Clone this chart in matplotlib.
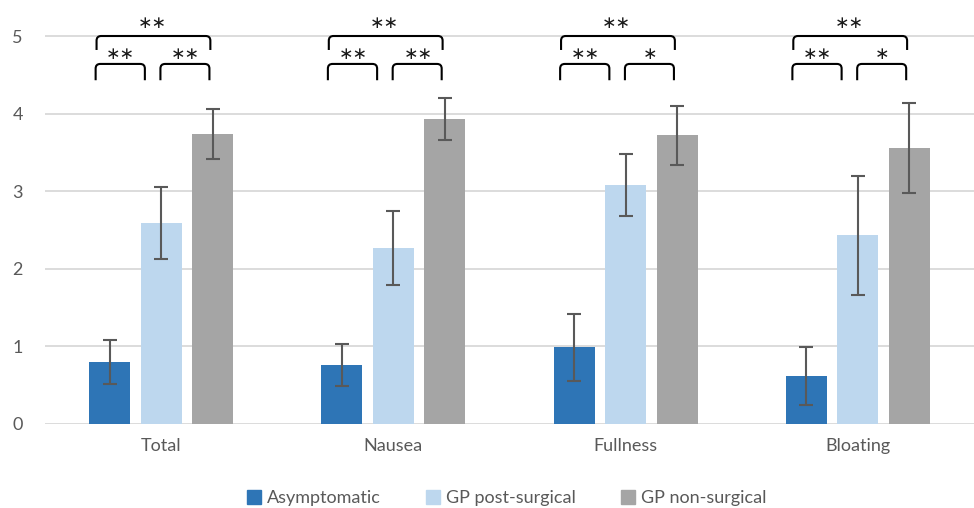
import matplotlib.pyplot as plt
from matplotlib.path import Path
from matplotlib.patches import PathPatch, Patch
import numpy as np

plt.rcParams['font.family'] = ['Lato', 'DejaVu Sans']

categories = ['Total', 'Nausea', 'Fullness', 'Bloating']
groups = ['Asymptomatic', 'GP post-surgical', 'GP non-surgical']
colors = ['#2E75B6', '#BDD7EE', '#A5A5A5']

means = {
    'Asymptomatic':     [0.80, 0.76, 0.99, 0.62],
    'GP post-surgical': [2.59, 2.27, 3.08, 2.43],
    'GP non-surgical':  [3.74, 3.93, 3.72, 3.56],
}
errors = {
    'Asymptomatic':     [0.28, 0.27, 0.43, 0.37],
    'GP post-surgical': [0.46, 0.48, 0.40, 0.77],
    'GP non-surgical':  [0.32, 0.27, 0.38, 0.58],
}

# significance marks: (outer bracket, left pair, right pair)
stars = [
    ('**', '**', '**'),
    ('**', '**', '**'),
    ('**', '**', '*'),
    ('**', '**', '*'),
]

fig = plt.figure(figsize=(9.74, 5.08), dpi=100)
ax = fig.add_axes([0.0462, 0.1654, 0.9538, 0.8346])

x = np.arange(len(categories))
width = 0.177
step = 0.222

for i, g in enumerate(groups):
    ax.bar(x + (i - 1) * step, means[g], width, color=colors[i], label=g, zorder=2)
    ax.errorbar(x + (i - 1) * step, means[g], yerr=errors[g], fmt='none',
                ecolor='#595959', elinewidth=1.5, capsize=5, capthick=1.5, zorder=3)


def bracket(x0, x1, ytop, ybot, r=0.02, rv=0.06):
    verts = [(x0, ybot), (x0, ytop - rv), (x0, ytop), (x0 + r, ytop),
             (x1 - r, ytop), (x1, ytop), (x1, ytop - rv), (x1, ybot)]
    codes = [Path.MOVETO, Path.LINETO, Path.CURVE3, Path.CURVE3,
             Path.LINETO, Path.CURVE3, Path.CURVE3, Path.LINETO]
    ax.add_patch(PathPatch(Path(verts, codes), fill=False, lw=1.5,
                           edgecolor='black', zorder=4, clip_on=False))


def mark(xc, yc, s):
    # asterisk operator glyph sits on the math axis, so it centres cleanly
    ax.text(xc, yc, s.replace('*', '\u2217'), ha='center', va='center_baseline',
            fontsize=12.5, family='DejaVu Sans', color='#1a1a1a')


for c, (s_all, s_left, s_right) in zip(x, stars):
    bracket(c - 0.278, c + 0.212, 5.0, 4.82)
    mark(c - 0.039, 5.19, s_all)
    bracket(c - 0.282, c - 0.070, 4.64, 4.43)
    mark(c - 0.174, 4.80, s_left)
    bracket(c - 0.003, c + 0.208, 4.64, 4.43)
    mark(c + 0.106, 4.80, s_right)

ax.set_xlim(-0.5, 3.5)
ax.set_ylim(0, 5.464)
ax.set_yticks(range(6))
ax.set_xticks(x)
ax.set_xticklabels(categories)
ax.tick_params(axis='both', length=0, labelsize=13, labelcolor='#595959')
ax.tick_params(axis='x', pad=10)
ax.tick_params(axis='y', pad=16)
ax.grid(axis='y', color='#D9D9D9', lw=1.3, zorder=0)
for s in ax.spines.values():
    s.set_visible(False)

handles = [Patch(color=c) for c in colors]
fig.legend(handles, groups, loc='center', bbox_to_anchor=(0.52, 0.02), ncol=3,
           frameon=False, fontsize=13, labelcolor='#595959', handlelength=0.8,
           handleheight=0.8, handletextpad=0.3, columnspacing=2.5)

fig.savefig('out.png', dpi=100)
